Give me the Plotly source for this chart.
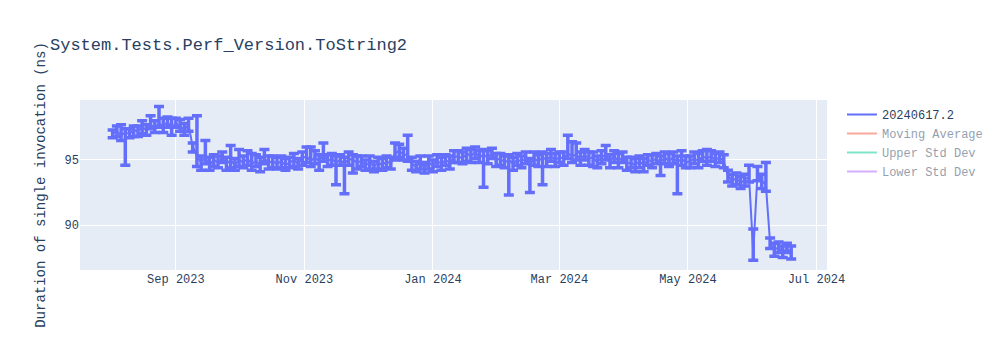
import plotly.graph_objects as go
import pandas as pd

series_name = "20240617.2"
chart_title = "System.Tests.Perf_Version.ToString2"
y_title = "Duration of single invocation (ns)"

dates = pd.date_range("2023-08-02", periods=162, freq="2D")

values = [
    97.0, 97.2, 96.9, 97.1, 97.0, 97.3, 97.2, 97.5, 97.3, 97.7,
    97.5, 97.8, 97.6, 97.9, 97.5, 97.8, 97.6, 97.3, 97.7, 96.0,
    95.3, 94.8, 95.2, 94.6, 95.0, 94.8, 95.2, 94.7, 95.0, 94.6,
    95.0, 94.8, 95.1, 94.7, 94.9, 94.6, 95.1, 94.8, 94.9, 94.7,
    94.9, 94.6, 94.8, 95.0, 94.7, 95.1, 95.3, 94.9, 95.2, 94.9,
    95.4, 94.9, 95.1, 94.8, 95.0, 94.7, 95.1, 95.0, 94.8, 94.9,
    94.6, 94.8, 94.5, 94.8, 94.6, 94.9, 94.7, 95.5, 95.7, 95.4,
    95.4, 94.7, 94.5, 94.8, 94.4, 94.8, 94.6, 94.9, 94.7, 95.0,
    94.8, 95.2, 95.3, 95.1, 95.5, 95.3, 95.6, 95.2, 95.4, 95.2,
    95.5, 95.0, 95.1, 94.8, 95.0, 94.7, 95.0, 94.9, 95.1, 94.7,
    95.1, 94.9, 95.2, 95.0, 95.3, 95.0, 95.2, 95.1, 95.5, 95.3,
    95.4, 95.1, 95.4, 95.1, 95.2, 94.8, 95.2, 95.4, 94.9, 95.3,
    94.9, 95.2, 94.7, 94.8, 94.6, 94.9, 94.6, 95.0, 94.9, 95.1,
    94.8, 95.2, 94.9, 95.2, 94.8, 95.1, 94.8, 94.9, 95.1, 94.9,
    95.3, 95.1, 95.3, 95.0, 95.2, 94.9, 93.8, 93.4, 93.6, 93.2,
    93.5, 93.7, 87.9, 93.9, 93.4, 93.1, 88.6, 88.1, 88.3, 87.9, 88.2, 87.9,
]

err_plus = [
    0.3, 0.4, 0.8, 0.3, 0.4, 0.3, 0.4, 0.5, 0.4, 0.7,
    0.5, 1.3, 0.6, 0.4, 0.7, 0.4, 0.5, 0.5, 0.5, 0.3,
    3.1, 0.5, 1.3, 0.6, 0.4, 0.5, 0.4, 0.5, 1.1, 0.5,
    0.8, 0.5, 0.6, 0.8, 0.5, 0.6, 0.7, 0.5, 0.4, 0.5,
    0.4, 0.5, 0.4, 0.5, 0.4, 0.5, 0.7, 1.1, 0.5, 0.5,
    0.9, 0.5, 0.4, 0.5, 0.4, 0.5, 0.5, 0.4, 0.5, 0.4,
    0.4, 0.5, 0.4, 0.4, 0.5, 0.4, 0.5, 0.8, 0.5, 0.5,
    1.5, 0.5, 0.4, 0.5, 0.4, 0.5, 0.4, 0.5, 0.5, 0.4,
    0.5, 0.5, 0.4, 0.5, 0.4, 0.5, 0.4, 0.5, 0.4, 0.5,
    0.4, 0.5, 0.4, 0.5, 0.4, 0.5, 0.5, 0.4, 0.5, 0.4,
    0.5, 0.5, 0.4, 0.5, 0.5, 0.5, 0.4, 0.5, 1.4, 1.1,
    0.9, 0.5, 0.4, 0.5, 0.4, 0.5, 0.5, 0.7, 0.5, 0.4,
    0.6, 0.4, 0.5, 0.4, 0.5, 0.4, 0.5, 0.4, 0.5, 0.4,
    0.5, 0.4, 0.6, 0.4, 0.5, 0.6, 0.5, 0.4, 0.5, 0.6,
    0.4, 0.7, 0.4, 0.5, 0.4, 0.5, 0.4, 0.5, 0.4, 0.5,
    0.4, 0.9, 1.8, 0.6, 0.5, 1.7, 0.4, 0.5, 0.4, 0.5, 0.4, 0.5,
]

err_minus = [
    0.3, 0.4, 0.4, 2.5, 0.3, 0.5, 0.4, 0.5, 0.4, 0.3,
    0.4, 0.3, 0.5, 0.4, 0.6, 0.3, 0.4, 0.4, 0.5, 0.4,
    0.8, 0.6, 0.5, 0.4, 0.5, 0.4, 0.4, 0.5, 0.6, 0.4,
    0.5, 0.4, 0.5, 0.5, 0.4, 0.5, 0.4, 0.5, 0.5, 0.4,
    0.5, 0.4, 0.4, 0.5, 0.4, 0.5, 0.5, 0.4, 0.5, 0.7,
    0.5, 0.4, 0.5, 1.7, 0.4, 2.3, 0.5, 1.0, 0.5, 0.4,
    0.4, 0.5, 0.4, 0.5, 0.4, 0.5, 0.4, 0.5, 0.5, 0.4,
    0.5, 0.5, 0.4, 0.5, 0.4, 0.5, 0.5, 0.4, 0.5, 0.4,
    0.5, 0.4, 0.5, 0.4, 0.6, 0.5, 0.5, 0.4, 2.5, 0.5,
    0.4, 0.5, 0.5, 0.4, 2.7, 0.5, 0.4, 0.5, 0.4, 2.2,
    0.5, 0.4, 2.1, 0.5, 0.4, 0.5, 0.4, 0.5, 0.4, 0.5,
    0.4, 0.5, 0.4, 0.5, 0.7, 0.4, 0.5, 0.4, 0.5, 0.5,
    0.5, 0.4, 0.5, 0.4, 0.5, 0.5, 0.5, 0.4, 0.5, 0.4,
    1.0, 0.5, 0.4, 0.5, 2.4, 0.5, 0.4, 0.5, 0.4, 0.5,
    0.4, 0.5, 0.4, 0.5, 0.4, 0.5, 0.5, 0.4, 0.5, 0.4,
    0.5, 0.4, 0.6, 0.5, 0.6, 0.5, 0.4, 0.5, 0.4, 0.4, 0.3, 0.5,
]

s = pd.Series(values)
moving_avg = s.rolling(10, min_periods=1).mean()
moving_std = s.rolling(10, min_periods=1).std().fillna(0)
upper = moving_avg + 2 * moving_std
lower = moving_avg - 2 * moving_std

fig = go.Figure()
fig.add_trace(go.Scatter(
    x=dates, y=values, mode="lines", name=series_name,
    line=dict(width=2),
    error_y=dict(type="data", symmetric=False, array=err_plus,
                 arrayminus=err_minus, thickness=3.5, width=5),
))
fig.add_trace(go.Scatter(x=dates, y=moving_avg, mode="lines",
                         name="Moving Average", visible="legendonly"))
fig.add_trace(go.Scatter(x=dates, y=upper, mode="lines",
                         name="Upper Std Dev", visible="legendonly"))
fig.add_trace(go.Scatter(x=dates, y=lower, mode="lines",
                         name="Lower Std Dev", visible="legendonly"))

fig.update_layout(
    width=1000, height=350,
    title=dict(text=chart_title),
    font=dict(family="Courier New, Liberation Mono, monospace"),
    yaxis=dict(title=dict(text=y_title), range=[86.55, 99.6]),
    xaxis=dict(range=["2023-07-17 12:00", "2024-07-06"]),
)

fig.write_html("out.html")
